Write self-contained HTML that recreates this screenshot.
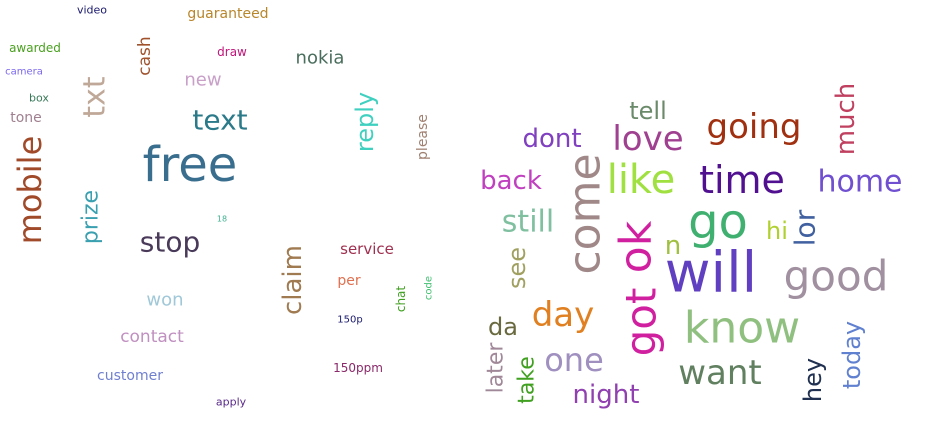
<!DOCTYPE html>
<html><head><meta charset="utf-8">
<style>
html,body{margin:0;padding:0;background:#fff;width:931px;height:429px;overflow:hidden}
svg text{font-family:"DejaVu Sans","Liberation Sans",sans-serif;text-anchor:middle;dominant-baseline:central}
</style></head>
<body>
<svg id="cloud" width="931" height="429" viewBox="0 0 931 429"></svg>
<script>
// word, x, y, size, rotated(1 = vertical), color
const words = ["video","guaranteed","awarded","cash","draw","nokia","camera","new","txt","box","reply","tone","text","please","free","mobile","prize","18","stop","claim","service","per","chat","code","won","150p","contact","150ppm","customer","apply",
"tell","going","much","dont","love","like","time","home","back","come","still","go","hi","lor","n","ok","got","will","good","see","day","know","da","one","want","later","take","night","hey","today"];
const xs = [92,228,35,145,232,320,24,203,95,39,365,26,220,423,190,30,91,222,170,293,367,349,401,429,165,350,152,358,130,231,
648,754,846,552,648,641,742,860,511,585,528,718,777,805,673,636,641,711,836,517,563,742,503,574,720,496,527,606,813,852];
const ys = [10,14,48,56,52,58,72,80,97,98,122,118,120,137,165,190,217,219,242,280,249,281,299,288,300,320,337,368,376,402,
111,127,119,139,139,180,180,182,181,214,222,222,231,228,246,247,322,273,276,268,315,328,327,360,373,368,380,395,380,355];
const sizes = [11,14,12,17,12,18,10,18,30,11,24,14,28,14,48,32,22,8,28,26,15,14,12,10,18,10,17,12,14,11,
24,34,26,26,34,40,38,30,26,44,30,48,24,28,26,44,42,56,42,24,34,44,24,32,34,22,22,26,24,24];
const rots = [0,0,0,1,0,0,0,0,1,0,1,0,0,1,0,1,1,0,0,1,0,0,1,1,0,0,0,0,0,0,
0,0,1,0,0,0,0,0,0,1,0,0,0,1,0,1,1,0,0,1,0,0,0,0,0,1,1,0,1,1];
const colors = ["#1a1a6e","#b8862b","#4aa020","#a0522d","#c0157a","#4a6e5e","#7b68ee","#c8a0c8","#c0a898","#3a7a5a","#40d0c0","#a08090","#2a7a8a","#a08070","#3a6e8e","#a04a2a","#3aa0b0","#40b090","#4a3a5a","#a07a50","#a03050","#e07050","#40a020","#40c070","#a0c8d8","#1a1a6e","#c090c0","#8a2a6a","#7080d0","#5a2a8a",
"#6a8a6a","#a03010","#c04060","#8040c0","#a04090","#a0e040","#501090","#7050d0","#c040c0","#a08888","#80c0a0","#40b070","#b0d030","#4060a0","#a0c040","#d020a0","#d020a0","#6040c0","#a090a0","#a0a060","#e08020","#90c080","#6a6a40","#a090c0","#608060","#a08898","#40a020","#9040b0","#203050","#6080d0"];
const svg = document.getElementById('cloud');
const NS = "http://www.w3.org/2000/svg";
words.forEach((w,i)=>{
  const t = document.createElementNS(NS,'text');
  t.setAttribute('x', xs[i]);
  t.setAttribute('y', ys[i]);
  t.setAttribute('font-size', sizes[i]);
  t.setAttribute('fill', colors[i]);
  if (rots[i]) t.setAttribute('transform', 'rotate(-90 '+xs[i]+' '+ys[i]+')');
  t.textContent = w;
  
  
  svg.appendChild(t);
});
</script>
</body></html>
